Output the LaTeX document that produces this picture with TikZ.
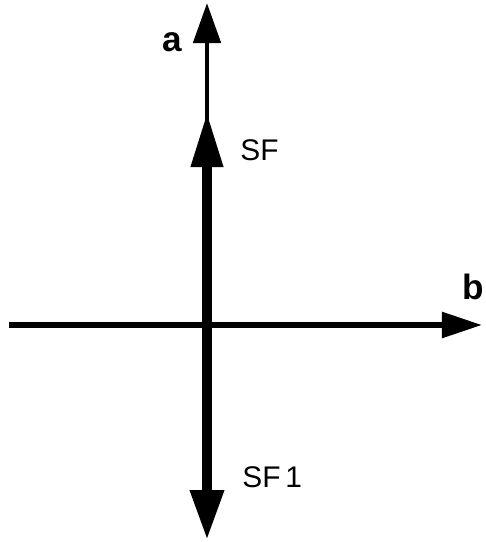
\documentclass[tikz,border=0pt]{standalone}
\usepackage{fontspec}
\setmainfont{Liberation Sans}
\usetikzlibrary{arrows.meta,positioning}
\tikzset{
  axis/.style={line width=#1, line cap=butt},
  axis/.default=2.8pt,
  vec/.style={line width=5.6pt},
  lbl/.style={inner sep=0pt, font=\fontsize{17}{20}\selectfont},
  albl/.style={inner sep=0pt, font=\fontsize{20}{22}\selectfont\bfseries},
}

\begin{document}
\begin{tikzpicture}
  \useasboundingbox (-4.14,-4.34) rectangle (5.58,6.5);
  \coordinate (o) at (0,0);
  \coordinate (bstart) at (-3.96,0);
  \coordinate (btip) at (5.50,0);
  \coordinate (atip) at (0,6.44);
  \coordinate (sftip) at (0,4.26);
  \coordinate (sfonetip) at (0,-4.30);
  \node[albl] (a) at (-0.70,5.66) {a};
  \node[albl] (b) at (5.32,0.76) {b};
  \node[lbl, anchor=west] (sf) at (0.66,3.50) {SF};
  \node[lbl, anchor=west] (sfone) at (0.70,-3.04) {SF\,1};
  \draw[axis=3.2pt, -{Triangle[length=0.8cm, width=0.5cm]}] (bstart) -- (btip);
  \draw[axis, -{Triangle[length=0.8cm, width=0.54cm]}] (o) -- (atip);
  \draw[vec, -{Triangle[length=1.1cm, width=0.6cm]}] (o) -- (sftip);
  \draw[vec, -{Triangle[length=1.0cm, width=0.64cm]}] (o) -- (sfonetip);
\end{tikzpicture}
\end{document}
